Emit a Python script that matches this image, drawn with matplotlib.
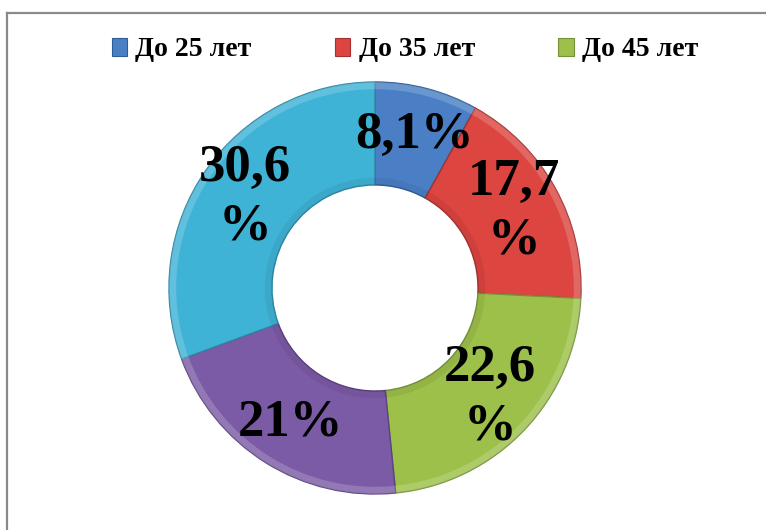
import numpy as np
import matplotlib.pyplot as plt
from matplotlib.lines import Line2D
from matplotlib.patches import Rectangle

# data
categories = ['До 25 лет', 'До 35 лет', 'До 45 лет', 'До 55 лет', 'Старше 55 лет']
values = [8.1, 17.7, 22.6, 21.0, 30.6]
labels = ['8,1%', '17,7\n%', '22,6\n%', '21%', '30,6\n%']
colors = ['#4A7FC6', '#DC4540', '#9DC04A', '#7C5BA6', '#3FB3D6']
edge_colors = ['#2F5D95', '#A33330', '#76923A', '#5C4280', '#2E88A5']

W, H = 766, 530
fig = plt.figure(figsize=(W / 100, H / 100), dpi=100)

# outer frame (gray, only top and left visible)
fig.add_artist(Line2D([7 / W, 1.0], [1 - 13 / H, 1 - 13 / H], color='#8A8A8A', lw=1.6))
fig.add_artist(Line2D([7 / W, 7 / W], [1 - 13 / H, 0.0], color='#8A8A8A', lw=1.6))

# donut: center (375, 288) px, radius 206 px
cx, cy, R = 375, 288, 206
ax = fig.add_axes([(cx - R) / W, (H - cy - R) / H, 2 * R / W, 2 * R / H])
wedges, _ = ax.pie(values, colors=colors, startangle=90, counterclock=False,
                   radius=1.0, wedgeprops=dict(width=0.5, linewidth=1.0))
for w, ec in zip(wedges, edge_colors):
    w.set_edgecolor(ec)

# subtle bevel: light rim on the outside, darker rim on the inside
ax.pie(values, colors=['white'] * 5, startangle=90, counterclock=False, radius=1.0,
       wedgeprops=dict(width=0.035, linewidth=0, alpha=0.18))
ax.pie(values, colors=['black'] * 5, startangle=90, counterclock=False, radius=0.535,
       wedgeprops=dict(width=0.035, linewidth=0, alpha=0.06))

ax.set_xlim(-1, 1)
ax.set_ylim(-1, 1)
ax.set_aspect('equal')
ax.axis('off')

# data labels along the middle of each wedge
for w, lab in zip(wedges, labels):
    ang = np.deg2rad((w.theta1 + w.theta2) / 2)
    r = 0.77
    ax.text(r * np.cos(ang), r * np.sin(ang), lab, ha='center', va='center',
            fontsize=38, fontweight='bold', family='Liberation Serif',
            linespacing=1.3, color='black')

# legend (only the first three entries fit in the original)
handles = [Rectangle((0, 0), 1, 1, facecolor=c, edgecolor=e, lw=0.8)
           for c, e in zip(colors[:3], edge_colors[:3])]
fig.legend(handles, categories[:3], loc='center', bbox_to_anchor=(405 / W, 1 - 50 / H),
           ncol=3, frameon=False, handlelength=0.55, handleheight=0.6,
           handletextpad=0.3, columnspacing=3.0,
           prop=dict(family='Liberation Serif', weight='bold', size=20))

fig.savefig('out.png', dpi=100)
